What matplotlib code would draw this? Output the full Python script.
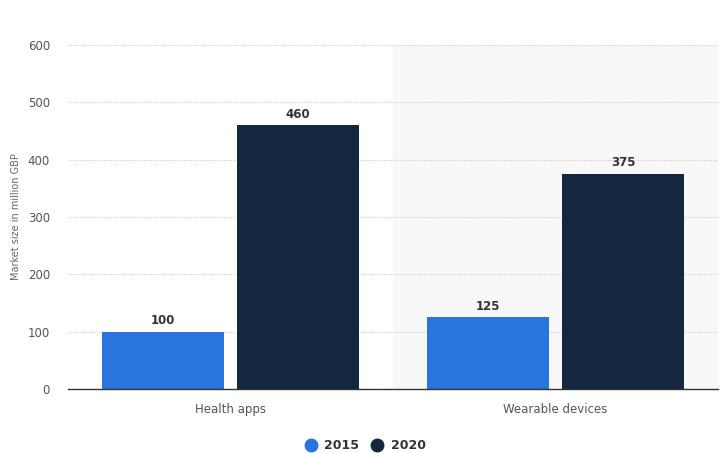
import matplotlib
matplotlib.use('Agg')
import matplotlib.pyplot as plt
from matplotlib.lines import Line2D
import numpy as np

categories = ['Health apps', 'Wearable devices']
years = ['2015', '2020']
values_2015 = [100, 125]
values_2020 = [460, 375]
y_ticks = [0, 100, 200, 300, 400, 500, 600]

colors = {'2015': '#2876dd', '2020': '#13283f'}

fig = plt.figure(figsize=(7.21, 4.53), dpi=100)
ax = fig.add_axes([0.0943, 0.1413, 0.9015, 0.7594])

x = np.arange(len(categories))
width = 0.375
offset = 0.208

# shaded band behind the second category
ax.axvspan(0.5, 1.5, color='#f8f8f8', zorder=0)

for vals, year, sign in [(values_2015, '2015', -1), (values_2020, '2020', 1)]:
    bars = ax.bar(x + sign * offset, vals, width, color=colors[year], zorder=3)
    for b, v in zip(bars, vals):
        ax.text(b.get_x() + b.get_width() / 2, v + 8, str(v), ha='center', va='bottom',
                fontsize=8.5, fontweight='bold', color='#333333', zorder=4)

ax.set_xlim(-0.5, 1.5)
ax.set_ylim(0, 600)
ax.set_yticks(y_ticks)
ax.set_xticks(x)
ax.set_xticklabels(categories)
ax.tick_params(axis='both', length=0, colors='#555555', labelsize=8.5)
ax.tick_params(axis='y', pad=13)
ax.tick_params(axis='x', pad=10)
ax.grid(axis='y', linestyle=(0, (1, 1)), color='#d0d0d0', linewidth=0.8, zorder=1)
ax.set_axisbelow(True)
for side in ['top', 'right', 'left']:
    ax.spines[side].set_visible(False)
ax.spines['bottom'].set_color('#333333')
ax.spines['bottom'].set_linewidth(1.0)
ax.spines['bottom'].set_zorder(5)

ax.set_ylabel('Market size in million GBP', fontsize=7, color='#666666')
ax.yaxis.set_label_coords(-0.072, 0.5)

handles = [Line2D([0], [0], marker='o', linestyle='', markersize=9,
                  markerfacecolor=colors[y], markeredgecolor=colors[y]) for y in years]
leg = fig.legend(handles, years, loc='center', bbox_to_anchor=(0.502, 0.016),
                 ncol=2, frameon=False, handletextpad=0.1, columnspacing=0.4,
                 prop={'weight': 'bold', 'size': 9})
for t in leg.get_texts():
    t.set_color('#333333')

fig.savefig('out.png', dpi=100)
